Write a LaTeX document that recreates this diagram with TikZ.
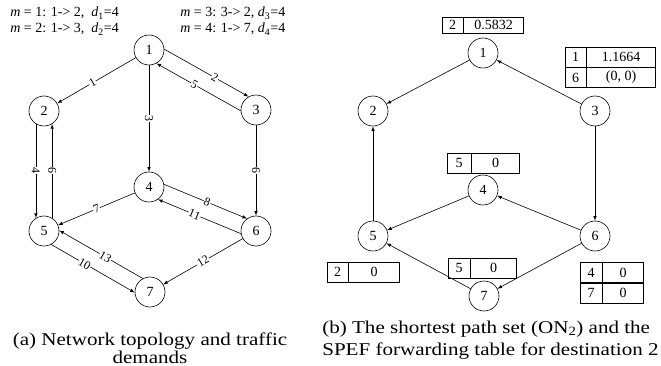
\documentclass[tikz,border=0pt]{standalone}
\usepackage{fontspec}
\setmainfont{Liberation Serif}
\newfontfamily\capfont[FakeStretch=1.17]{Liberation Serif}
\usetikzlibrary{positioning}

\tikzset{
    router/.style={circle, draw, minimum size=30pt, inner sep=0pt, font=\fontsize{14}{16}\selectfont},
    lbl/.style={sloped, fill=white, inner sep=0.5pt, font=\fontsize{12}{14}\selectfont},
    cell/.style={draw, minimum height=20pt, inner sep=0pt, font=\fontsize{14}{16}\selectfont},
    demand/.style={anchor=base west, inner sep=0pt, font=\fontsize{14}{16}\selectfont},
    caption/.style={inner sep=0pt, font=\capfont\fontsize{18}{22}\selectfont}
}

\begin{document}
\begin{tikzpicture}[x=1pt, y=-1pt, line width=0.6pt]
    \useasboundingbox (0,0) rectangle (661,366);

    % traffic demands
    \node[demand] (dm1) at (10,17) {\textit{m} = 1: 1-> 2,\ \ \textit{d}\textsubscript{1}=4};
    \node[demand] (dm2) at (10,33) {\textit{m} = 2: 1-> 3,\ \ \textit{d}\textsubscript{2}=4};
    \node[demand] (dm3) at (180,17) {\textit{m} = 3: 3-> 2, \textit{d}\textsubscript{3}=4};
    \node[demand] (dm4) at (180,33) {\textit{m} = 4: 1-> 7, \textit{d}\textsubscript{4}=4};

    % (a) topology
    \node[router] (a1) at (149,50) {1};
    \node[router] (a2) at (44,111) {2};
    \node[router] (a3) at (256,110) {3};
    \node[router] (a4) at (149,187) {4};
    \node[router] (a5) at (44,231) {5};
    \node[router] (a6) at (256,231) {6};
    \node[router] (a7) at (150,292) {7};

    \draw[-latex] (a1) -- (a2) node[lbl, pos=0.55] {1};
    \draw[-latex] (a1.3) -- (a3.119) node[lbl, pos=0.6] {2};
    \draw[-latex] (a1) -- (a4) node[lbl, midway] {3};
    \draw[-latex] (a2.-122) -- (a5.122) node[lbl, midway] {4};
    \draw[-latex] (a3.183) -- (a1.-61) node[lbl, pos=0.55] {5};
    \draw[-latex] (a3) -- (a6) node[lbl, midway] {6};
    \draw[-latex] (a4) -- (a5) node[lbl, midway] {7};
    \draw[-latex] (a4.10) -- (a6.126) node[lbl, pos=0.52] {8};
    \draw[-latex] (a5.58) -- (a2.-58) node[lbl, midway] {9};
    \draw[-latex] (a5.-62) -- (a7.182) node[lbl, pos=0.4] {10};
    \draw[-latex] (a6.190) -- (a4.-54) node[lbl, pos=0.56] {11};
    \draw[-latex] (a6) -- (a7) node[lbl, midway] {12};
    \draw[-latex] (a7.118) -- (a5.2) node[lbl, pos=0.45] {13};

    % (b) shortest paths to 2
    \node[router] (b1) at (483,53) {1};
    \node[router] (b2) at (373,111) {2};
    \node[router] (b3) at (595,111) {3};
    \node[router] (b4) at (483,190) {4};
    \node[router] (b5) at (373,236) {5};
    \node[router] (b6) at (595,236) {6};
    \node[router] (b7) at (484,296) {7};

    \draw[-latex] (b1) -- (b2);
    \draw[-latex] (b3) -- (b1);
    \draw[-latex] (b3) -- (b6);
    \draw[-latex] (b5) -- (b2);
    \draw[-latex] (b4) -- (b5);
    \draw[-latex] (b6) -- (b4);
    \draw[-latex] (b6) -- (b7);
    \draw[-latex] (b7) -- (b5);

    % forwarding tables
    \node[cell, minimum width=21pt, minimum height=16pt] (t1a) at (452.5,25) {2};
    \node[cell, minimum width=60pt, minimum height=16pt, right=0pt of t1a] (t1b) {0.5832};

    \node[cell, minimum width=21pt] (t3a) at (575.5,57) {1};
    \node[cell, minimum width=69pt, right=0pt of t3a] (t3b) {1.1664};
    \node[cell, minimum width=21pt, below=0pt of t3a] (t3c) {6};
    \node[cell, minimum width=69pt, right=0pt of t3c] (t3d) {(0, 0)};

    \node[cell, minimum width=24pt] (t4a) at (459,163) {5};
    \node[cell, minimum width=48pt, right=0pt of t4a] (t4b) {0};

    \node[cell, minimum width=21pt] (t5a) at (337.5,272) {2};
    \node[cell, minimum width=51pt, right=0pt of t5a] (t5b) {0};

    \node[cell, minimum width=22pt] (t7a) at (459,268) {5};
    \node[cell, minimum width=46pt, right=0pt of t7a] (t7b) {0};

    \node[cell, minimum width=22pt] (t6a) at (591,272.5) {4};
    \node[cell, minimum width=41pt, right=0pt of t6a] (t6b) {0};
    \node[cell, minimum width=22pt, below=0pt of t6a] (t6c) {7};
    \node[cell, minimum width=41pt, right=0pt of t6c] (t6d) {0};

    % captions
    \node[caption, anchor=base] (capa1) at (150,345) {(a) Network topology and traffic};
    \node[caption, anchor=base] (capa2) at (150,363) {demands};
    \node[caption, anchor=base west] (capb1) at (322,333) {(b) The shortest path set (ON\textsubscript{2}) and the};
    \node[caption, anchor=base west] (capb2) at (322,355) {SPEF forwarding table for destination 2};
\end{tikzpicture}
\end{document}
